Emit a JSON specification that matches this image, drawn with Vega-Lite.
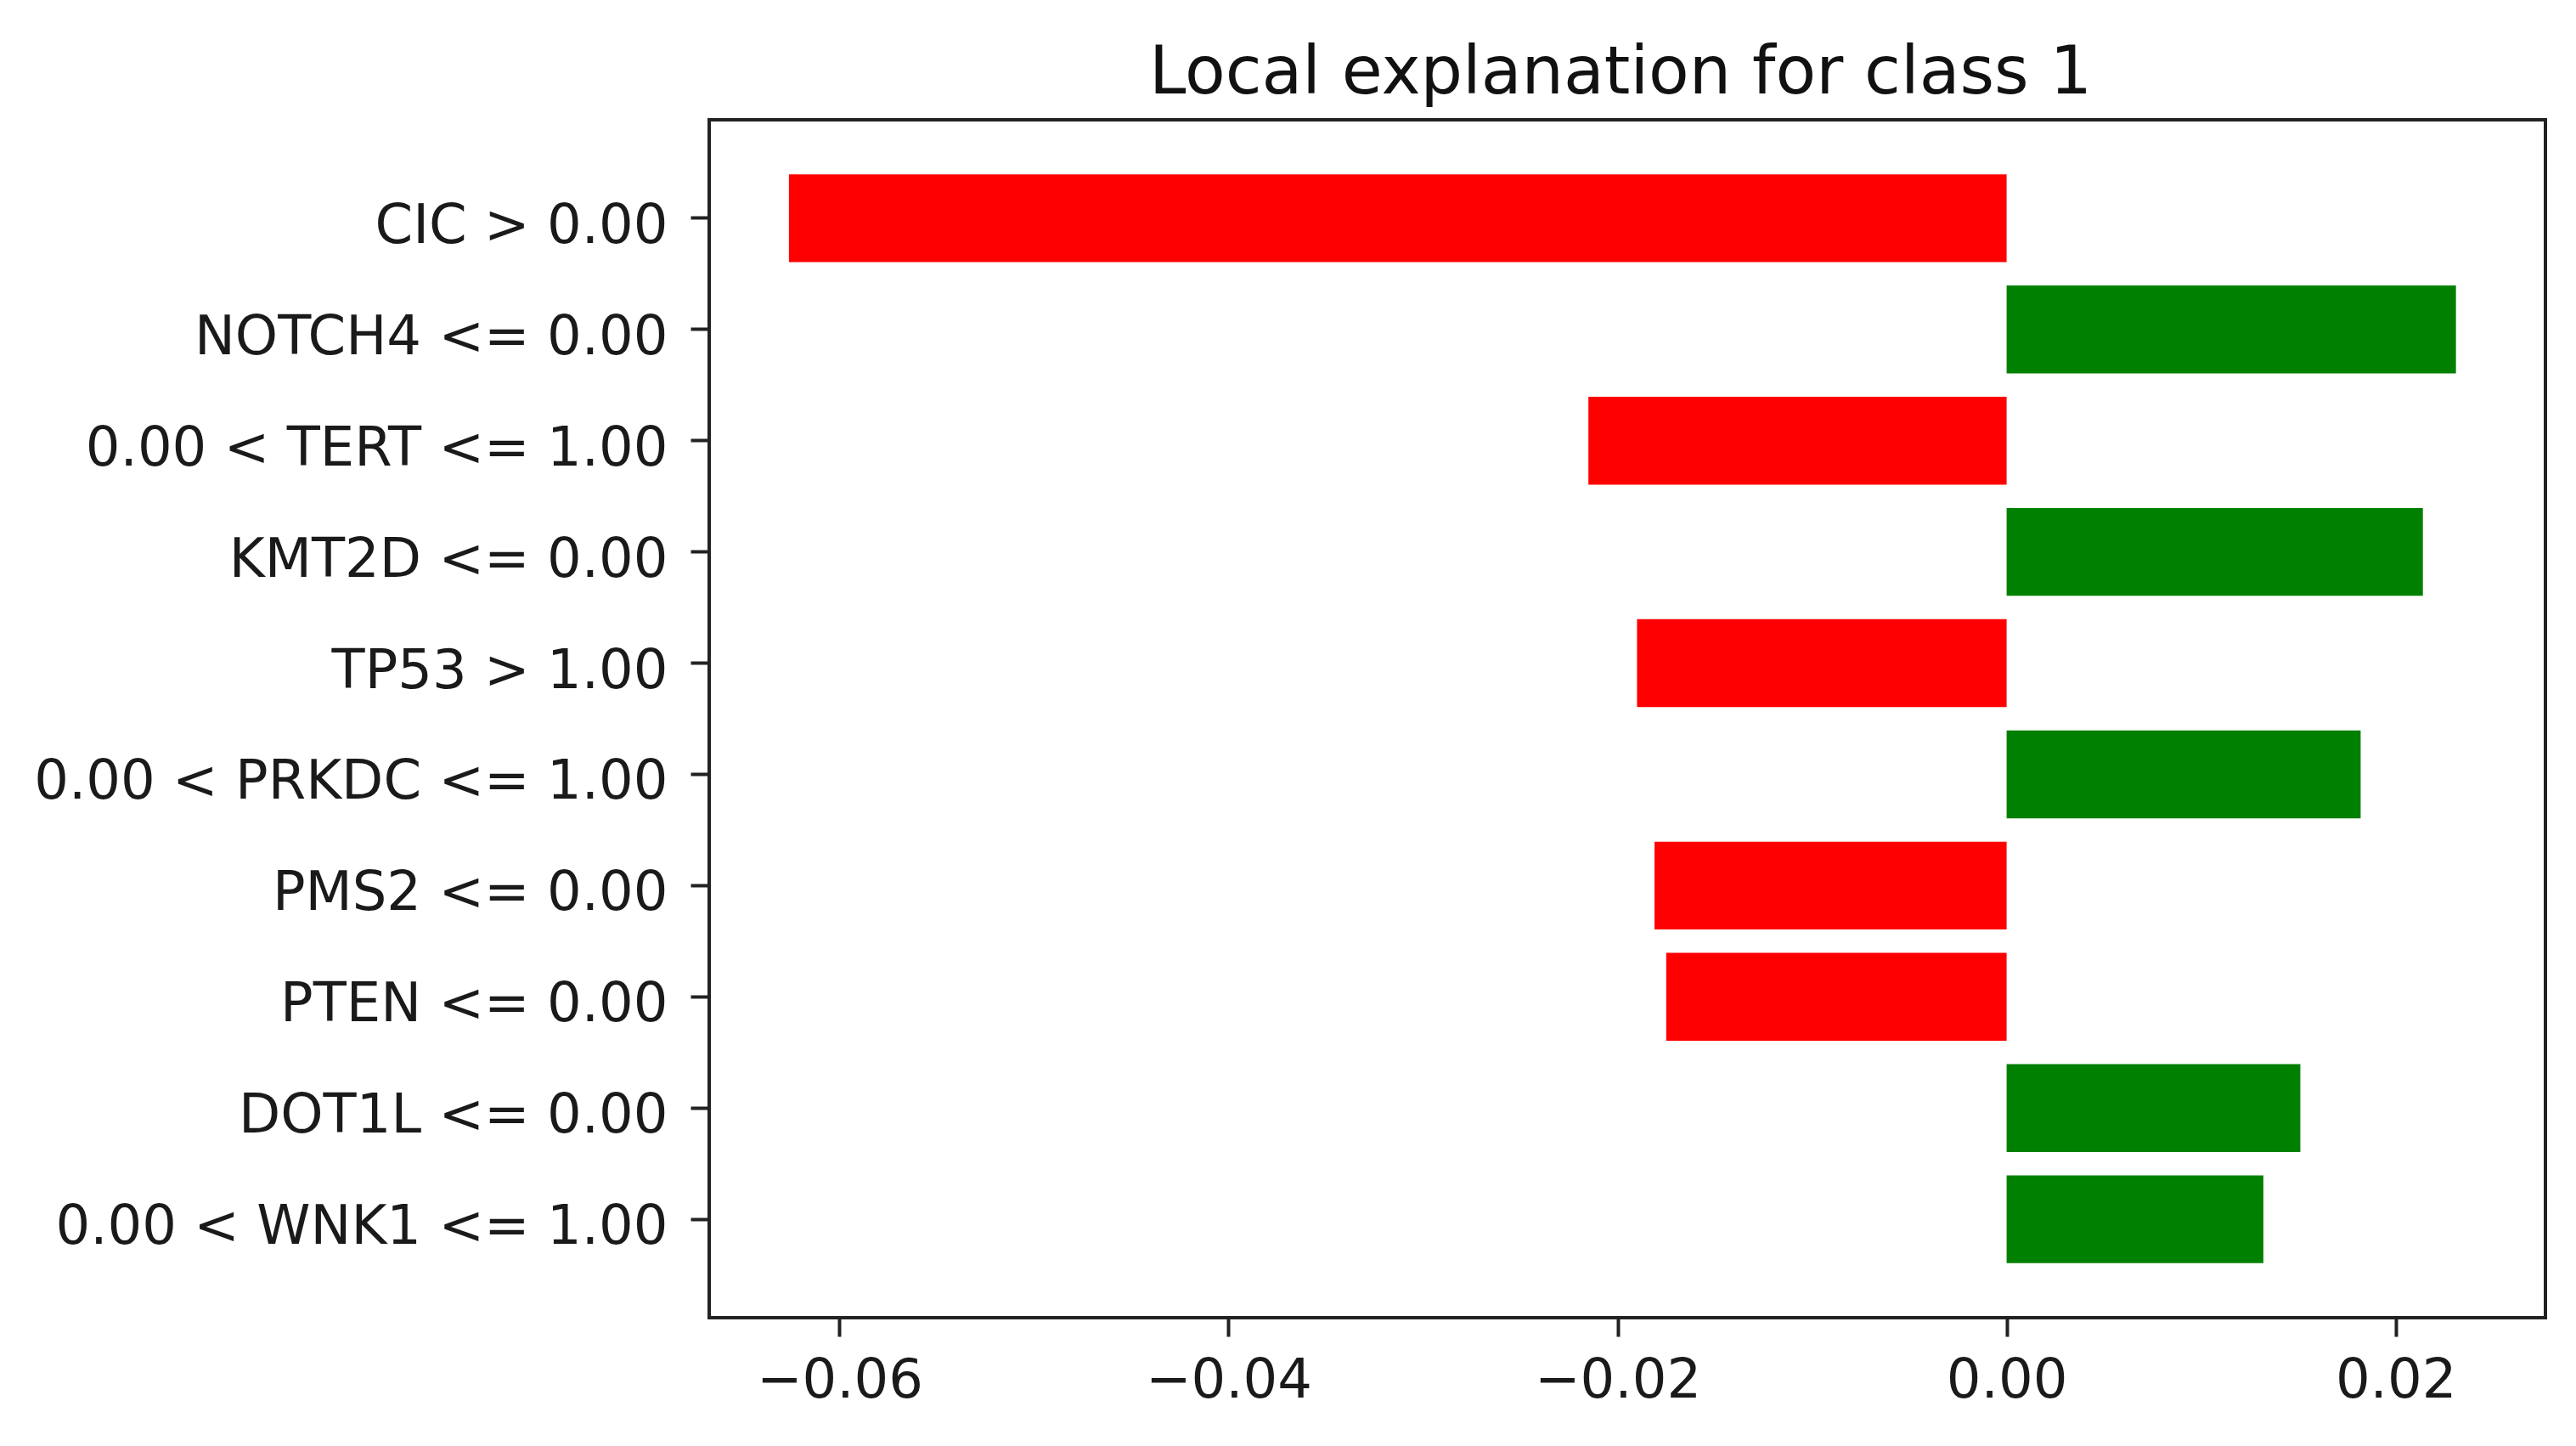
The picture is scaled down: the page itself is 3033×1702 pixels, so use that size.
{
  "$schema": "https://vega.github.io/schema/vega-lite/v6.json",
  "width": 2162,
  "height": 1410,
  "autosize": {"type": "none"},
  "padding": {"left": 835, "top": 141, "right": 36, "bottom": 151},
  "background": "white",
  "title": {
    "text": "Local explanation for class 1",
    "font": "DejaVu Sans",
    "fontSize": 78,
    "fontWeight": "normal",
    "color": "#111111",
    "anchor": "middle",
    "dx": -8,
    "offset": 15
  },
  "data": {
    "values": [
      {"feature": "CIC > 0.00", "weight": -0.0626, "direction": "negative"},
      {"feature": "NOTCH4 <= 0.00", "weight": 0.0231, "direction": "positive"},
      {"feature": "0.00 < TERT <= 1.00", "weight": -0.0215, "direction": "negative"},
      {"feature": "KMT2D <= 0.00", "weight": 0.0214, "direction": "positive"},
      {"feature": "TP53 > 1.00", "weight": -0.0190, "direction": "negative"},
      {"feature": "0.00 < PRKDC <= 1.00", "weight": 0.0182, "direction": "positive"},
      {"feature": "PMS2 <= 0.00", "weight": -0.0181, "direction": "negative"},
      {"feature": "PTEN <= 0.00", "weight": -0.0175, "direction": "negative"},
      {"feature": "DOT1L <= 0.00", "weight": 0.0151, "direction": "positive"},
      {"feature": "0.00 < WNK1 <= 1.00", "weight": 0.0132, "direction": "positive"}
    ]
  },
  "mark": {"type": "bar", "cornerRadius": 0},
  "encoding": {
    "y": {
      "field": "feature",
      "type": "nominal",
      "sort": null,
      "scale": {"paddingInner": 0.21, "paddingOuter": 0.49},
      "axis": {
        "title": null,
        "domain": false,
        "ticks": true,
        "tickSize": 22,
        "tickWidth": 4,
        "tickColor": "#222222",
        "labelFont": "DejaVu Sans",
        "labelFontSize": 64,
        "labelColor": "#1a1a1a",
        "labelPadding": 27,
        "labelOffset": 10,
        "labelLimit": 2000,
        "grid": false
      }
    },
    "x": {
      "field": "weight",
      "type": "quantitative",
      "scale": {"domain": [-0.0667, 0.0277], "nice": false, "zero": false},
      "axis": {
        "title": null,
        "domain": false,
        "values": [-0.06, -0.04, -0.02, 0, 0.02],
        "format": ".2f",
        "tickSize": 22,
        "tickWidth": 4,
        "tickColor": "#222222",
        "labelFont": "DejaVu Sans",
        "labelFontSize": 64,
        "labelColor": "#1a1a1a",
        "labelPadding": 20,
        "labelLimit": 2000,
        "labelFlush": false,
        "labelOverlap": false,
        "grid": false
      }
    },
    "color": {
      "field": "direction",
      "type": "nominal",
      "scale": {"domain": ["negative", "positive"], "range": ["#ff0000", "#008000"]},
      "legend": null
    }
  },
  "config": {
    "view": {"stroke": "#222222", "strokeWidth": 4}
  }
}
